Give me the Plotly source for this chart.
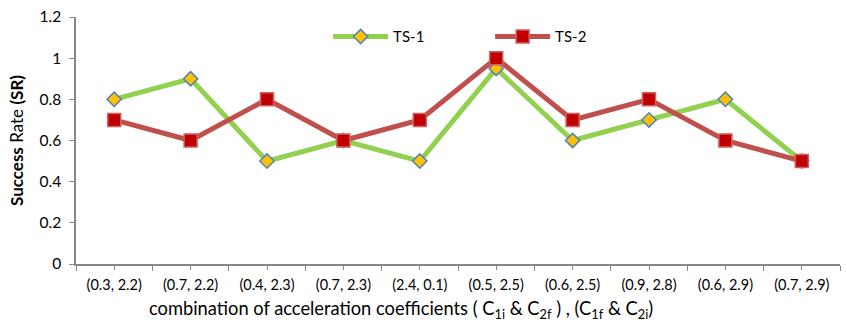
import plotly.graph_objects as go

categories = ["(0.3, 2.2)", "(0.7, 2.2)", "(0.4, 2.3)", "(0.7, 2.3)", "(2.4, 0.1)",
              "(0.5, 2.5)", "(0.6, 2.5)", "(0.9, 2.8)", "(0.6, 2.9)", "(0.7, 2.9)"]
ts1 = [0.8, 0.9, 0.5, 0.6, 0.5, 0.95, 0.6, 0.7, 0.8, 0.5]
ts2 = [0.7, 0.6, 0.8, 0.6, 0.7, 1.0, 0.7, 0.8, 0.6, 0.5]
y_ticks = [0, 0.2, 0.4, 0.6, 0.8, 1.0, 1.2]
y_ticktext = ["0", "0.2", "0.4", "0.6", "0.8", "1", "1.2"]
x_title = ("combination of acceleration coefficients ( C<sub>1i</sub> &amp; C<sub>2f</sub> ) , "
           "(C<sub>1f</sub> &amp; C<sub>2i</sub>)")

xs = list(range(len(categories)))
FONT = "Lato, Open Sans, sans-serif"

fig = go.Figure()
fig.add_trace(go.Scatter(
    x=xs, y=ts1, name="TS-1", mode="lines+markers",
    line=dict(color="#92D050", width=5),
    marker=dict(symbol="diamond", size=11, color="#FFC000",
                line=dict(color="#4F81BD", width=1.5)),
))
fig.add_trace(go.Scatter(
    x=xs, y=ts2, name="TS-2", mode="lines+markers",
    line=dict(color="#C0504D", width=5),
    marker=dict(symbol="square", size=13, color="#C00000",
                line=dict(color="#D06060", width=1.5)),
))

fig.add_annotation(
    text=x_title, xref="paper", yref="paper", x=0.425, y=-0.184,
    xanchor="center", yanchor="middle", showarrow=False,
    font=dict(size=18.3, family=FONT, color="black"),
)

fig.update_layout(
    width=847, height=326,
    margin=dict(l=76, r=7, t=14, b=62),
    paper_bgcolor="white", plot_bgcolor="white",
    font=dict(family=FONT, size=14, color="black"),
    showlegend=True,
    legend=dict(orientation="h", x=0.33, y=0.92, xanchor="left", yanchor="middle",
                font=dict(size=15), itemwidth=55, entrywidth=92, bgcolor="rgba(0,0,0,0)"),
    xaxis=dict(
        range=[-0.5, len(categories) - 0.5],
        tickvals=xs, ticktext=categories,
        showline=True, linecolor="#878787", linewidth=1.5,
        ticks="outside", ticklen=4, tickcolor="#878787",
        showgrid=False, zeroline=False,
        tickfont=dict(size=14.5), ticklabelstandoff=3,
        minor=dict(tickvals=[i - 0.5 for i in range(len(categories) + 1)],
                   ticks="outside", ticklen=5, tickcolor="#878787", showgrid=False),
    ),
    yaxis=dict(
        range=[0, 1.2],
        tickvals=y_ticks, ticktext=y_ticktext,
        showline=True, linecolor="#878787", linewidth=1.5,
        ticks="outside", ticklen=5, tickcolor="#878787",
        showgrid=False, zeroline=False,
        tickfont=dict(size=15.5), ticklabelstandoff=5,
        title=dict(text="<b>Success</b> Rate <b>(SR)</b>", font=dict(size=17), standoff=12),
    ),
)

fig.write_html("out.html")
